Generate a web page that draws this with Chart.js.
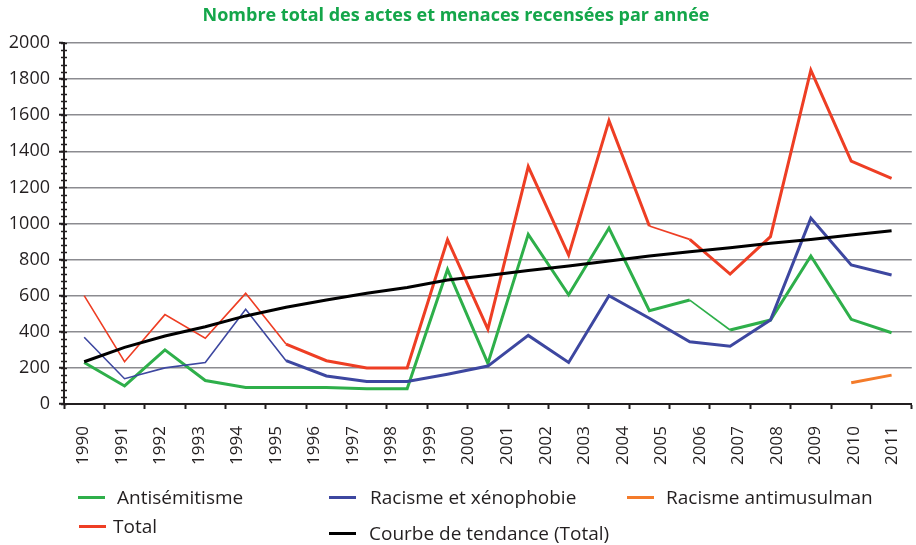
<!DOCTYPE html>
<html>
<head>
<meta charset="utf-8">
<script src="https://cdn.jsdelivr.net/npm/chart.js@4/dist/chart.umd.min.js"></script>
<style>
  html, body { margin: 0; padding: 0; background: #fff; }
  #wrap { position: relative; width: 916px; height: 545px; }
  #legend { position: absolute; left: 0; top: 0; width: 916px; height: 545px; pointer-events: none;
    font-family: "Open Sans", sans-serif; font-size: 19px; color: #231f20; }
  .item { position: absolute; display: flex; align-items: center; white-space: nowrap; }
  .swatch { display: inline-block; width: 27px; height: 3px; }
</style>
</head>
<body>
<div id="wrap">
  <canvas id="myChart" width="916" height="545"></canvas>
  <div id="legend"></div>
</div>
<script>
// years shown under the axis (22 labels) and the 21 plotted points
const years = ['1990','1991','1992','1993','1994','1995','1996','1997','1998','1999','2000',
               '2001','2002','2003','2004','2005','2006','2007','2008','2009','2010','2011'];
const points = years.slice(0, 21);

const antisemitisme = [230, 100, 300, 130, 92, 92, 92, 85, 85, 745, 225, 940, 605, 975, 517, 576, 410, 465, 820, 469, 395];
const racisme       = [370, 140, 200, 230, 525, 240, 155, 125, 125, 165, 210, 380, 230, 600, 475, 345, 320, 465, 1030, 770, 715];
const antimusulman  = [null, null, null, null, null, null, null, null, null, null, null, null, null, null, null, null, null, null, null, 118, 160];
const total         = [600, 234, 495, 364, 613, 332, 240, 200, 200, 910, 415, 1315, 825, 1570, 986, 912, 720, 927, 1850, 1346, 1250];
const tendance      = [234, 314, 377, 428, 488, 536, 576, 613, 646, 687, 712, 739, 765, 792, 820, 844, 866, 890, 912, 936, 960];

const yTicks = [0, 200, 400, 600, 800, 1000, 1200, 1400, 1600, 1800, 2000];

function segWidth(thin) {
  return ctx => thin.includes(ctx.p0DataIndex) ? 1.6 : 3;
}

// minor tick marks on the value axis
const minorTicks = {
  id: 'minorTicks',
  afterDraw(chart) {
    const y = chart.scales.y, c = chart.ctx;
    const x0 = chart.chartArea.left;
    c.save();
    c.strokeStyle = '#231f20';
    c.lineWidth = 1.5;
    for (let v = 0; v <= 2000; v += 40) {
      const py = Math.round(y.getPixelForValue(v)) + 0.5;
      c.beginPath();
      c.moveTo(x0 - 3, py);
      c.lineTo(x0 + 3, py);
      c.stroke();
    }
    c.restore();
  }
};

const ctx = document.getElementById('myChart').getContext('2d');
const myChart = new Chart(ctx, {
  type: 'line',
  data: {
    labels: points,
    datasets: [
      { label: 'Antisémitisme', data: antisemitisme, borderColor: '#2eaf4a', segment: { borderWidth: segWidth([15]) }, order: 4 },
      { label: 'Racisme et xénophobie', data: racisme, borderColor: '#3d47a0', segment: { borderWidth: segWidth([0,1,2,3,4]) }, order: 3 },
      { label: 'Racisme antimusulman', data: antimusulman, borderColor: '#f47b2a', order: 2 },
      { label: 'Total', data: total, borderColor: '#ee3e24', segment: { borderWidth: segWidth([0,1,2,3,4,14]) }, order: 1 },
      { label: 'Courbe de tendance (Total)', data: tendance, borderColor: '#000000', borderWidth: 3, order: 0 }
    ]
  },
  options: {
    responsive: false,
    animation: false,
    layout: { padding: { left: 0, right: 4, top: 0, bottom: 0 } },
    elements: {
      line: { tension: 0, borderWidth: 3, fill: false, borderCapStyle: 'butt' },
      point: { radius: 0 }
    },
    plugins: {
      legend: { display: false },
      tooltip: { enabled: false },
      title: {
        display: true,
        text: 'Nombre total des actes et menaces recensées par année',
        color: '#14a64a',
        font: { family: 'Open Sans', size: 18, weight: 'bold' },
        padding: { top: 5, bottom: 16.4 }
      }
    },
    scales: {
      x: {
        type: 'category',
        offset: true,
        weight: 0,
        grid: { display: true, drawOnChartArea: false, offset: true, tickLength: 5, tickColor: '#231f20', tickWidth: 2 },
        border: { display: true, color: '#231f20', width: 2 },
        ticks: { display: false },
        afterFit: s => { s.height = 11; }
      },
      x2: {
        type: 'category',
        labels: years,
        position: 'bottom',
        offset: true,
        weight: 1,
        grid: { display: false },
        border: { display: false },
        ticks: { autoSkip: false, minRotation: 90, maxRotation: 90, padding: 3,
                 color: '#231f20', font: { family: 'Open Sans', size: 17 } },
        afterFit: s => { s.height = 130; }
      },
      y: {
        min: 0, max: 2000,
        afterBuildTicks: s => { s.ticks = yTicks.map(v => ({ value: v })); },
        grid: { color: '#8b8b90', lineWidth: 1.5, tickColor: '#231f20', tickLength: 5, tickWidth: 2 },
        border: { display: true, color: '#231f20', width: 2 },
        ticks: { padding: 9, color: '#231f20', font: { family: 'Open Sans', size: 18 },
                 callback: v => String(v) },
        afterFit: s => { s.width = 64; }
      }
    }
  },
  plugins: [minorTicks]
});

// legend, laid out like the original
const legendPos = [
  { left: 78, top: 497, gap: 12 },
  { left: 329, top: 497, gap: 14 },
  { left: 627, top: 497, gap: 12 },
  { left: 79, top: 526, gap: 7 },
  { left: 329, top: 533, gap: 13 }
];
const legend = document.getElementById('legend');
myChart.data.datasets.forEach((ds, i) => {
  const p = legendPos[i];
  const el = document.createElement('div');
  el.className = 'item';
  el.style.left = p.left + 'px';
  el.style.top = (p.top - 13) + 'px';
  el.style.height = '26px';
  const sw = document.createElement('span');
  sw.className = 'swatch';
  sw.style.background = ds.borderColor;
  sw.style.marginRight = p.gap + 'px';
  const tx = document.createElement('span');
  tx.textContent = ds.label;
  el.appendChild(sw);
  el.appendChild(tx);
  legend.appendChild(el);
});
</script>
</body>
</html>
